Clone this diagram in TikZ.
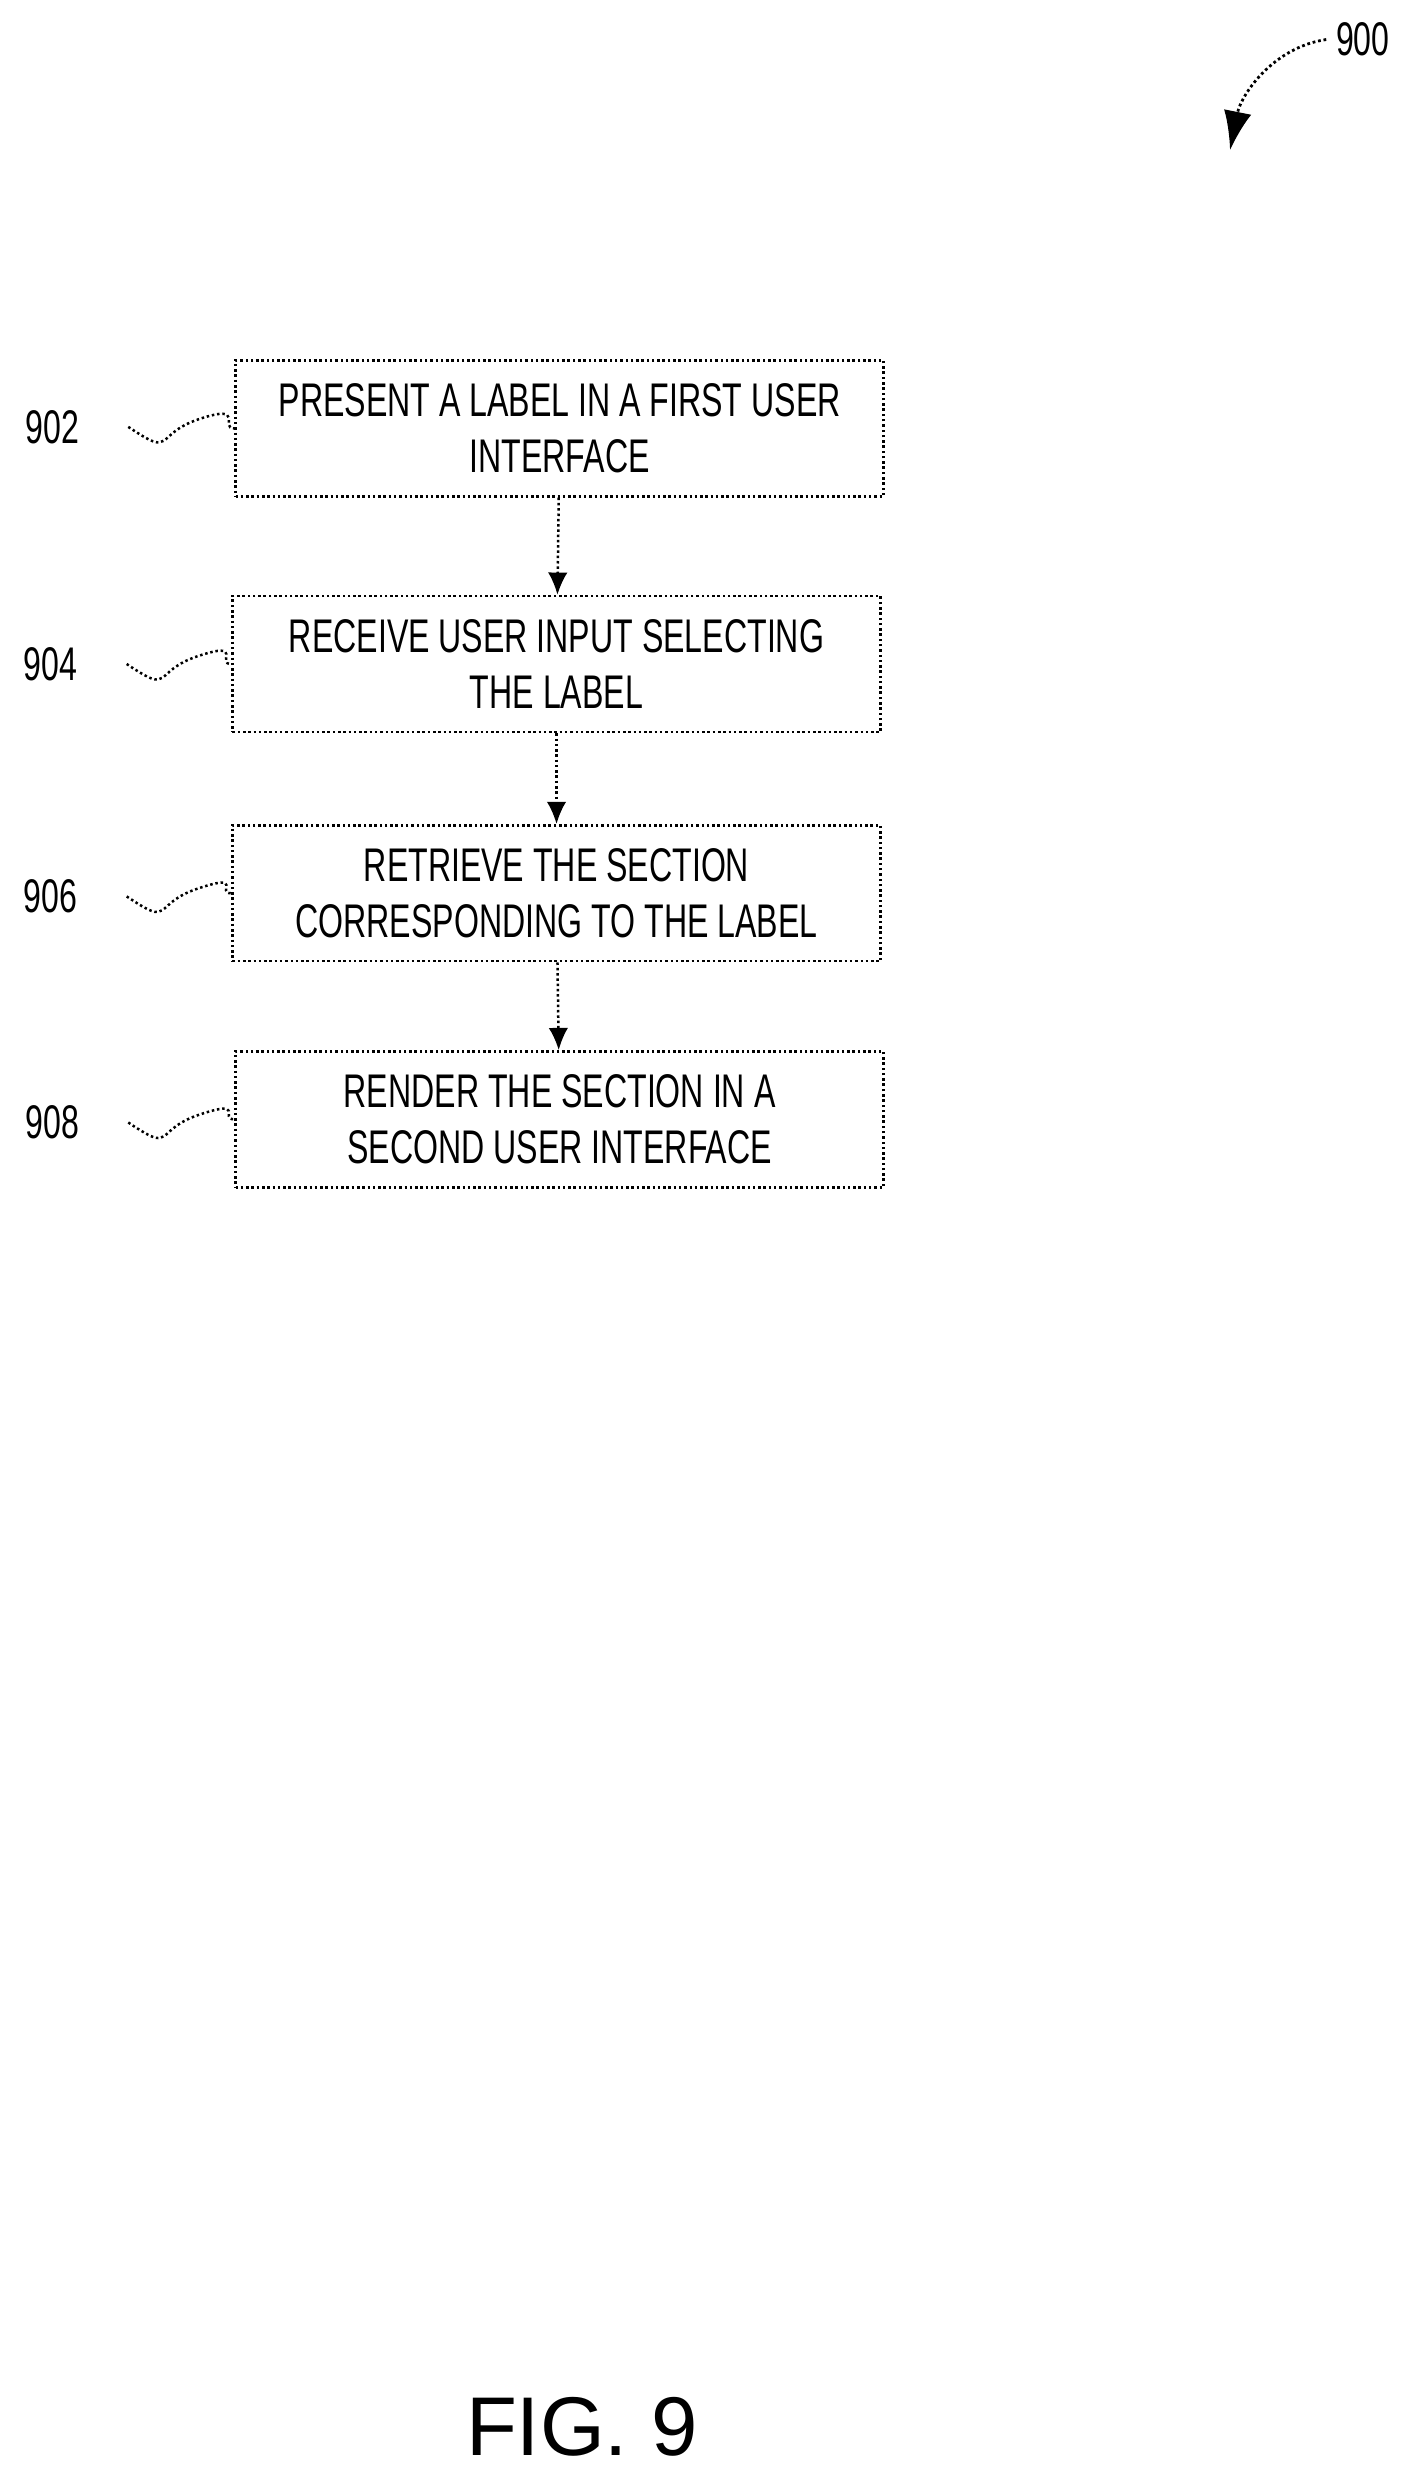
\documentclass[tikz,border=0pt]{standalone}
\usepackage{fontspec}
\usetikzlibrary{arrows.meta}
\setmainfont{Liberation Sans}
\newfontfamily\nar[FakeStretch=0.68]{Liberation Sans}
\begin{document}
\begin{tikzpicture}[x=0.02cm,y=-0.02cm,
  stepbox/.style={draw,densely dotted,line width=0.9pt,minimum width=8.2cm,minimum height=1.72cm,align=center,font=\nar\fontsize{17}{20}\selectfont,inner sep=0pt},
  lab/.style={font=\nar\fontsize{17}{20}\selectfont},
  conn/.style={densely dotted,line width=0.9pt,-{Latex[length=8pt,width=7pt]}},
  squig/.style={line width=0.9pt,densely dotted}]
\useasboundingbox (0,0) rectangle (894,1568);
\node[stepbox] (b1) at (354,271) {PRESENT A LABEL IN A FIRST USER\\INTERFACE};
\node[stepbox] (b2) at (352,420) {RECEIVE USER INPUT SELECTING\\THE LABEL};
\node[stepbox] (b3) at (352,565) {RETRIEVE THE SECTION\\CORRESPONDING TO THE LABEL};
\node[stepbox] (b4) at (354,708) {RENDER THE SECTION IN A\\SECOND USER INTERFACE};
\draw[conn] (b1) -- (b2);
\draw[conn] (b2) -- (b3);
\draw[conn] (b3) -- (b4);
\node[lab] (l1) at (33,270) {902};
\node[lab] (l2) at (32,420) {904};
\node[lab] (l3) at (32,567) {906};
\node[lab] (l4) at (33,710) {908};
\foreach \l/\b in {l1/b1,l2/b2,l3/b3,l4/b4}{
  \draw[squig] ([xshift=0.5cm]\l.east) .. controls +(30,20) and +(-30,10) .. ++(45,-5) .. controls +(30,-10) and +(-10,0) .. (\b.west);
}
\node[lab] (l0) at (862,25) {900};
\coordinate (a0) at (778,95);
\draw[line width=1pt,densely dotted,-{Latex[length=14pt,width=10pt]}] (l0.west) .. controls (805,30) and (785,60) .. (a0);
\node[font=\fontsize{30}{34}\selectfont] (fig) at (368,1535) {FIG. 9};
\end{tikzpicture}
\end{document}
